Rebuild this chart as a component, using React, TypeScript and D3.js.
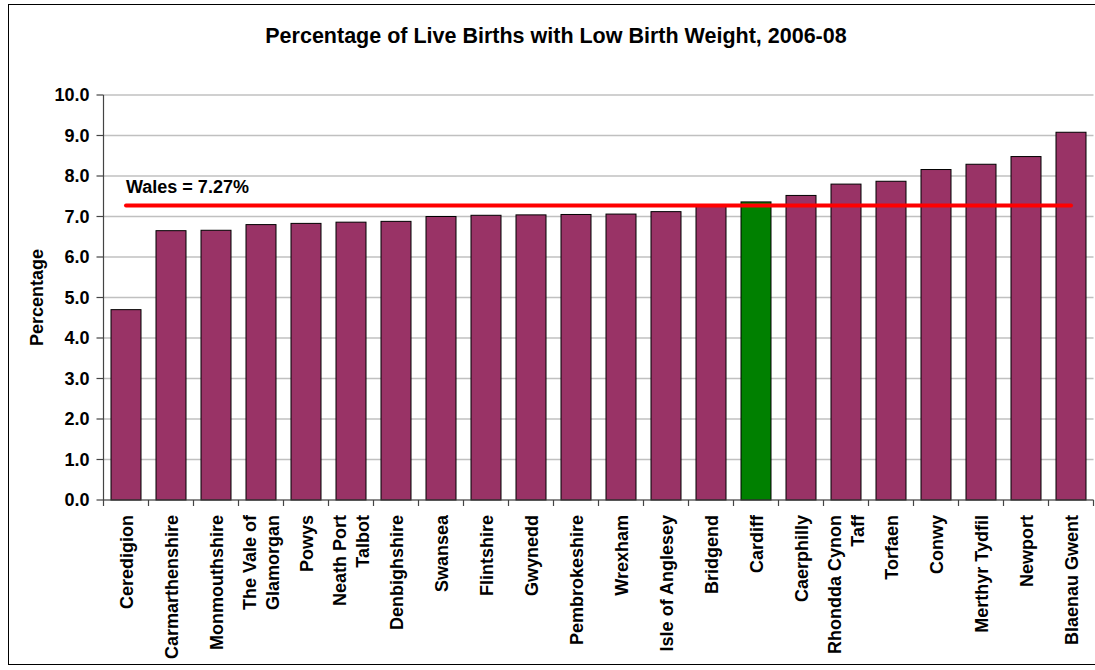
import React from "react";
import * as d3 from "d3";

const categories: string[][] = [
  ["Ceredigion"],
  ["Carmarthenshire"],
  ["Monmouthshire"],
  ["The Vale of", "Glamorgan"],
  ["Powys"],
  ["Neath Port", "Talbot"],
  ["Denbighshire"],
  ["Swansea"],
  ["Flintshire"],
  ["Gwynedd"],
  ["Pembrokeshire"],
  ["Wrexham"],
  ["Isle of Anglesey"],
  ["Bridgend"],
  ["Cardiff"],
  ["Caerphilly"],
  ["Rhondda Cynon", "Taff"],
  ["Torfaen"],
  ["Conwy"],
  ["Merthyr Tydfil"],
  ["Newport"],
  ["Blaenau Gwent"],
];
const values: number[] = [
  4.7, 6.65, 6.66, 6.8, 6.83, 6.86, 6.88, 7.0, 7.03, 7.04, 7.05, 7.06, 7.12,
  7.25, 7.36, 7.52, 7.8, 7.87, 8.16, 8.29, 8.48, 9.08,
];
const highlighted = "Cardiff";
const walesValue = 7.27;
const walesLabel = "Wales = 7.27%";
const yTicks: number[] = [0, 1, 2, 3, 4, 5, 6, 7, 8, 9, 10];
const title = "Percentage of Live Births with Low Birth Weight, 2006-08";
const yTitle = "Percentage";

const FONT = "Arial, 'Liberation Sans', sans-serif";

export default function App() {
  const W = 1095;
  const H = 670;
  const left = 103.5;
  const right = 1093.5;
  const top = 95;
  const bottom = 500;
  const keys = categories.map((c) => c.join(" "));
  const x = d3
    .scaleBand<string>()
    .domain(keys)
    .range([left, right])
    .paddingInner(1 / 3)
    .paddingOuter(1 / 6);
  const y = d3.scaleLinear().domain([0, 10]).range([bottom, top]);
  const step = x.step();
  const fs = 18;

  return (
    <svg
      width={W}
      height={H}
      style={{ position: "absolute", left: 0, top: 0, background: "#fff" }}
      fontFamily={FONT}
    >
      <rect x={0} y={0} width={W} height={H} fill="#fff" />
      <rect
        x={8.5}
        y={4.5}
        width={1100}
        height={660}
        fill="none"
        stroke="#000"
        strokeWidth={1}
      />
      <text
        x={556}
        y={43}
        textAnchor="middle"
        fontSize={21.5}
        fontWeight="bold"
      >
        {title}
      </text>
      {/* gridlines */}
      {yTicks.map((t) => (
        <line
          key={"g" + t}
          x1={left}
          x2={right}
          y1={y(t)}
          y2={y(t)}
          stroke="#c0c0c0"
          strokeWidth={1.3}
        />
      ))}
      {/* bars */}
      {keys.map((k, i) => (
        <rect
          key={k}
          x={x(k)!}
          y={y(values[i])}
          width={x.bandwidth()}
          height={y(0) - y(values[i])}
          fill={k === highlighted ? "#008000" : "#993366"}
          stroke="#000"
          strokeWidth={1}
        />
      ))}
      {/* y axis */}
      <line x1={left} x2={left} y1={top} y2={bottom} stroke="#444" strokeWidth={1.2} />
      {yTicks.map((t) => (
        <g key={"t" + t}>
          <line x1={left - 7} x2={left} y1={y(t)} y2={y(t)} stroke="#444" strokeWidth={1.2} />
          <text
            x={89.5}
            y={y(t)}
            dy="0.35em"
            textAnchor="end"
            fontSize={fs}
            fontWeight="bold"
          >
            {t.toFixed(1)}
          </text>
        </g>
      ))}
      {/* x axis */}
      <line x1={left} x2={right} y1={bottom} y2={bottom} stroke="#444" strokeWidth={1.2} />
      {d3.range(keys.length + 1).map((i) => (
        <line
          key={"xt" + i}
          x1={left + i * step}
          x2={left + i * step}
          y1={bottom}
          y2={bottom + 6}
          stroke="#444"
          strokeWidth={1.2}
        />
      ))}
      {categories.map((lines, i) => {
        const cx = x(keys[i])! + x.bandwidth() / 2;
        const lh = 22.5;
        const n = lines.length;
        return (
          <g key={"c" + i}>
            {lines.map((ln, j) => {
              const off = (j - (n - 1) / 2) * lh;
              const px = cx + off + 6.5;
              return (
                <text
                  key={j}
                  transform={`translate(${px},515) rotate(-90)`}
                  textAnchor="end"
                  fontSize={fs}
                  fontWeight="bold"
                >
                  {ln}
                </text>
              );
            })}
          </g>
        );
      })}
      {/* y title */}
      <text
        transform={`translate(42.5,${(top + bottom) / 2}) rotate(-90)`}
        textAnchor="middle"
        fontSize={fs}
        fontWeight="bold"
      >
        {yTitle}
      </text>
      {/* Wales line */}
      <line
        x1={x(keys[0])! + x.bandwidth() / 2}
        x2={x(keys[keys.length - 1])! + x.bandwidth() / 2}
        y1={y(walesValue)}
        y2={y(walesValue)}
        stroke="#ff0000"
        strokeWidth={4}
        strokeLinecap="round"
      />
      <text x={126} y={192.5} fontSize={fs} fontWeight="bold">
        {walesLabel}
      </text>
    </svg>
  );
}
